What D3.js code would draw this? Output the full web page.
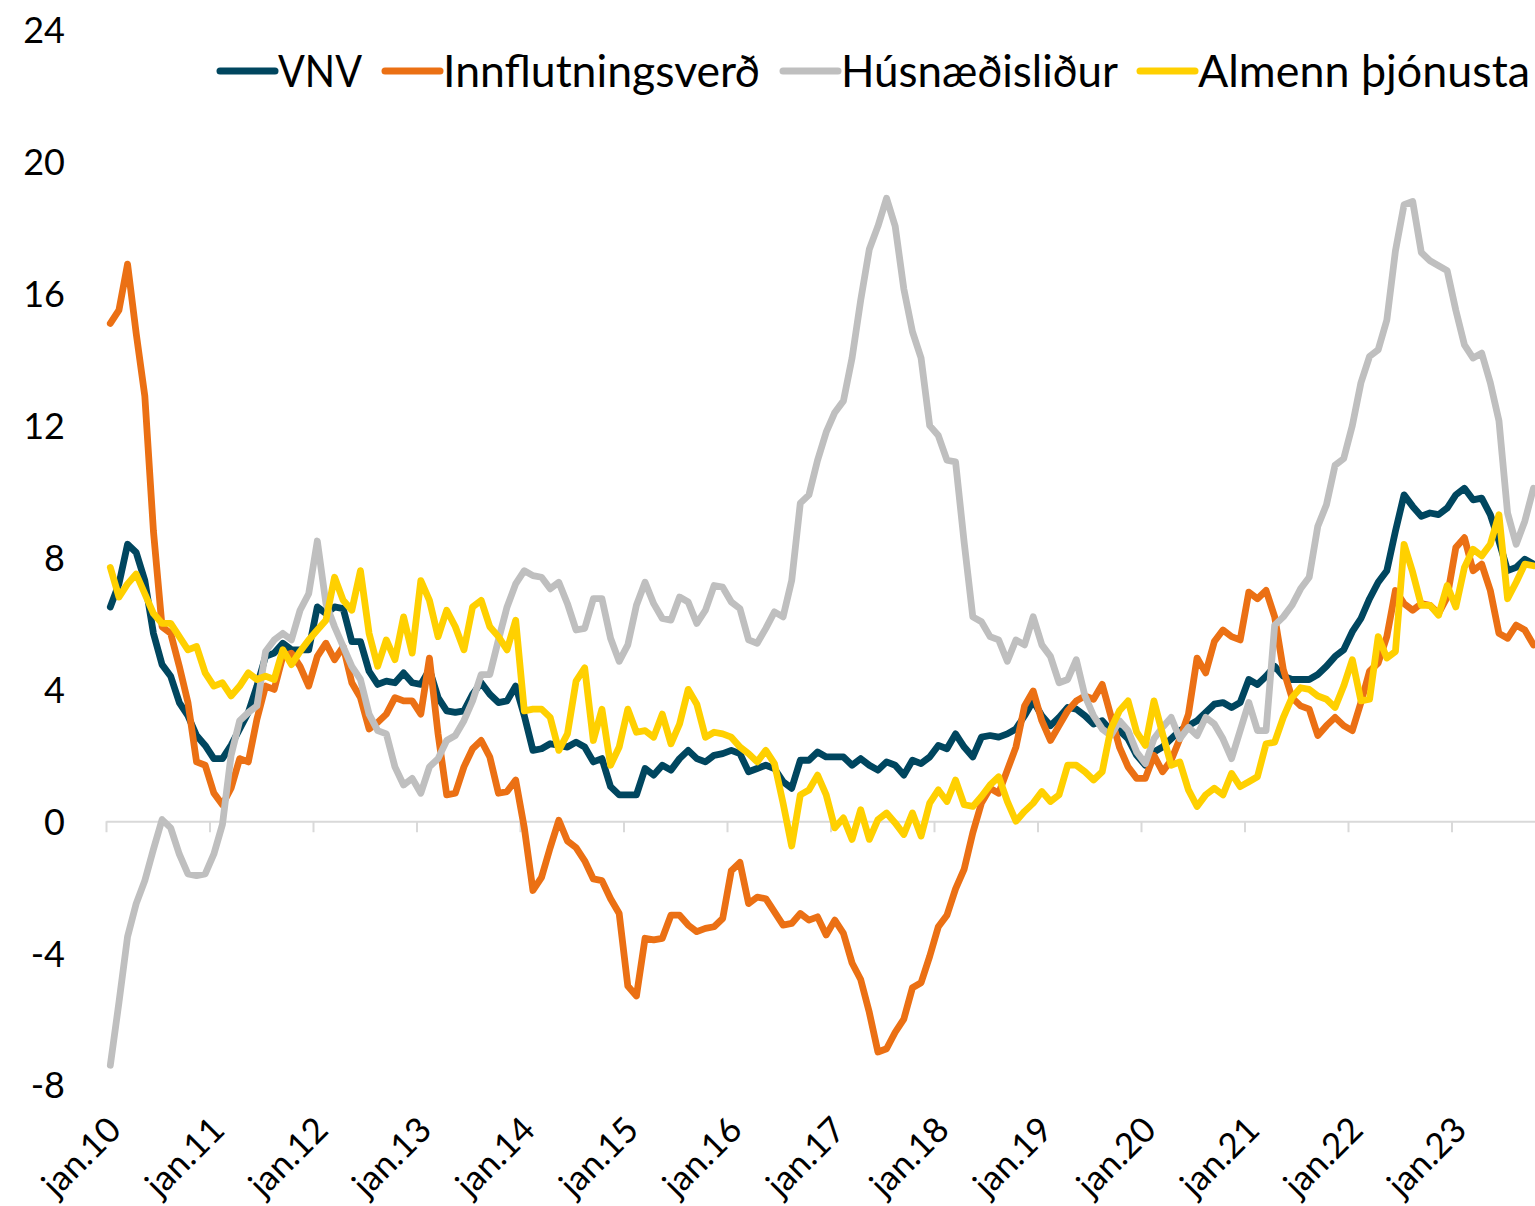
<!DOCTYPE html>
<html><head><meta charset="utf-8">
<script src="https://cdn.jsdelivr.net/npm/d3@7"></script>
<style>
html,body{margin:0;padding:0;background:#fff;}
svg{display:block;font-family:Lato,"Noto Sans",sans-serif;}
</style>
</head><body>
<svg id="chart" width="1535" height="1206"></svg>
<script>
// ---- DATA ----
const tickLabels = ["jan.10","jan.11","jan.12","jan.13","jan.14","jan.15","jan.16","jan.17","jan.18","jan.19","jan.20","jan.21","jan.22","jan.23"];
const yTicks = [-8,-4,0,4,8,12,16,20,24];
const seriesNames = ["VNV","Innflutningsverð","Húsnæðisliður","Almenn þjónusta"];
const seriesColors = ["#00465F","#EB7014","#BFBFBF","#FFD000"];

const vnv = [6.5,7.2,8.4,8.15,7.3,5.7,4.75,4.4,3.6,3.2,2.6,2.3,
1.9,1.9,2.3,2.8,3.3,4.1,5.0,5.1,5.4,5.2,5.2,5.2,
6.5,6.3,6.5,6.45,5.45,5.45,4.55,4.15,4.25,4.2,4.5,4.2,
4.15,4.6,3.75,3.35,3.3,3.35,3.85,4.2,3.85,3.6,3.65,4.1,
3.2,2.15,2.2,2.35,2.3,2.25,2.4,2.25,1.8,1.9,1.05,0.8,
0.8,0.8,1.6,1.4,1.7,1.55,1.9,2.15,1.9,1.8,2.0,2.05,
2.15,2.05,1.5,1.6,1.7,1.6,1.2,1.0,1.85,1.85,2.1,1.95,
1.95,1.95,1.7,1.9,1.7,1.55,1.8,1.7,1.4,1.85,1.75,1.95,
2.3,2.2,2.65,2.25,1.95,2.55,2.6,2.55,2.65,2.8,3.2,3.65,
3.2,2.9,3.15,3.45,3.4,3.2,2.95,3.05,2.75,2.75,2.5,2.0,
1.7,2.1,2.25,2.5,2.75,2.9,3.05,3.3,3.55,3.6,3.45,3.6,
4.3,4.15,4.4,4.7,4.4,4.3,4.3,4.3,4.45,4.7,5.0,5.2,
5.75,6.15,6.75,7.25,7.6,8.8,9.9,9.55,9.25,9.35,9.3,9.5,
9.9,10.1,9.75,9.8,9.3,8.5,7.6,7.7,7.95,7.8];

const innflutningsverd = [15.1,15.5,16.9,14.8,12.9,8.8,5.9,5.7,4.7,3.6,1.8,1.7,
0.86,0.5,1.0,1.9,1.8,3.1,4.1,4.0,5.0,5.1,4.7,4.1,
5.0,5.4,4.9,5.3,4.2,3.75,2.8,3.0,3.25,3.75,3.65,3.65,
3.25,4.95,2.65,0.8,0.85,1.65,2.2,2.45,1.95,0.85,0.9,1.25,
-0.2,-2.1,-1.7,-0.8,0.03,-0.6,-0.8,-1.2,-1.75,-1.8,-2.35,-2.8,
-5.0,-5.3,-3.55,-3.6,-3.55,-2.85,-2.85,-3.15,-3.35,-3.25,-3.2,-2.95,
-1.5,-1.25,-2.5,-2.3,-2.35,-2.75,-3.15,-3.1,-2.8,-3.0,-2.9,-3.45,
-3.0,-3.4,-4.3,-4.8,-5.8,-7.0,-6.9,-6.4,-6.0,-5.05,-4.9,-4.1,
-3.2,-2.85,-2.05,-1.45,-0.35,0.55,1.0,0.85,1.55,2.25,3.5,3.95,
3.05,2.45,2.9,3.35,3.65,3.8,3.7,4.15,3.2,2.25,1.65,1.3,
1.3,2.0,1.5,1.85,2.5,3.25,4.95,4.5,5.45,5.8,5.6,5.5,
6.95,6.75,7.0,6.2,4.6,3.75,3.5,3.4,2.6,2.9,3.15,2.9,
2.75,3.6,4.55,4.8,5.6,7.0,6.6,6.4,6.6,6.55,6.3,6.8,
8.3,8.6,7.6,7.8,7.0,5.7,5.55,5.95,5.8,5.35];

const husnaedislidur = [-7.4,-5.5,-3.5,-2.5,-1.8,-0.85,0.05,-0.2,-1.0,-1.6,-1.65,-1.6,
-1.0,-0.1,2.0,3.05,3.3,3.5,5.15,5.5,5.7,5.5,6.4,6.9,
8.5,6.6,5.9,5.3,4.7,4.3,3.25,2.75,2.65,1.65,1.1,1.3,
0.85,1.65,1.9,2.45,2.6,3.05,3.65,4.45,4.45,5.5,6.5,7.2,
7.6,7.45,7.4,7.05,7.25,6.6,5.8,5.85,6.75,6.75,5.55,4.85,
5.35,6.55,7.25,6.6,6.15,6.1,6.8,6.65,6.0,6.4,7.15,7.1,
6.65,6.45,5.5,5.4,5.85,6.35,6.2,7.3,9.65,9.9,10.95,11.8,
12.4,12.75,14.05,15.8,17.35,18.05,18.9,18.05,16.15,14.85,14.05,12.0,
11.7,10.95,10.9,8.45,6.2,6.05,5.6,5.5,4.85,5.5,5.35,6.2,
5.35,5.0,4.2,4.3,4.9,3.8,3.2,2.8,2.6,3.05,2.75,2.1,
1.75,2.5,2.85,3.15,2.5,2.85,2.6,3.15,2.95,2.5,1.9,2.75,
3.6,2.75,2.75,5.95,6.2,6.55,7.05,7.4,8.95,9.6,10.8,11.0,
12.0,13.3,14.1,14.3,15.2,17.3,18.7,18.8,17.25,17.0,16.85,16.7,
15.5,14.45,14.05,14.2,13.3,12.15,9.35,8.4,9.1,10.1];

const almennThjonusta = [7.7,6.8,7.2,7.5,6.9,6.3,6.0,6.0,5.6,5.2,5.3,4.5,
4.1,4.2,3.8,4.1,4.5,4.3,4.4,4.3,5.2,4.75,5.15,5.5,
5.8,6.1,7.4,6.7,6.4,7.6,5.7,4.7,5.5,4.9,6.2,5.1,
7.3,6.7,5.6,6.4,5.9,5.2,6.5,6.7,5.9,5.6,5.2,6.1,
3.35,3.4,3.4,3.15,2.15,2.65,4.25,4.65,2.45,3.4,1.7,2.25,
3.4,2.7,2.75,2.55,3.25,2.35,2.95,4.0,3.55,2.55,2.7,2.65,
2.55,2.25,2.05,1.8,2.15,1.75,0.55,-0.75,0.8,0.95,1.4,0.8,
-0.2,0.1,-0.55,0.35,-0.55,0.05,0.25,-0.05,-0.4,0.25,-0.45,0.55,
0.95,0.6,1.25,0.5,0.45,0.75,1.1,1.35,0.6,0.0,0.3,0.55,
0.9,0.6,0.8,1.7,1.7,1.5,1.25,1.5,2.8,3.35,3.65,2.7,
2.3,3.65,2.65,1.7,1.8,0.95,0.45,0.8,1.0,0.8,1.45,1.05,
1.2,1.35,2.35,2.4,3.15,3.75,4.05,4.0,3.8,3.7,3.45,4.1,
4.9,3.65,3.7,5.6,4.95,5.15,8.4,7.55,6.55,6.55,6.25,7.15,
6.5,7.7,8.25,8.05,8.4,9.3,6.75,7.25,7.8,7.75];

const monthNames = ["jan","feb","mar","apr","maí","jún","júl","ágú","sep","okt","nóv","des"];
const categories = vnv.map((_, i) => monthNames[i % 12] + "." + (10 + Math.floor(i / 12)));

// ---- CHART ----
const svg = d3.select("#chart");
const plotLeft = 106, monthW = 8.625;
const x = d3.scaleBand().domain(categories).range([plotLeft, plotLeft + categories.length * monthW]).padding(0);
const xEdge = d3.scaleLinear().domain([0, categories.length]).range([plotLeft, plotLeft + categories.length * monthW]);
const y = d3.scaleLinear().domain([-8, 24]).range([1085, 30]);

// Category axis at zero
const xAxis = d3.axisBottom(xEdge)
  .tickValues(d3.range(0, categories.length, 12))
  .tickFormat("")
  .tickSize(11)
  .tickSizeOuter(0);
const gx = svg.append("g").attr("transform", `translate(0,${y(0)})`).call(xAxis);
gx.select(".domain").attr("stroke", "#D9D9D9").attr("stroke-width", 2);
gx.selectAll(".tick line").attr("stroke", "#D9D9D9").attr("stroke-width", 2);

// Rotated year labels at the bottom
svg.append("g").selectAll("text")
  .data(tickLabels)
  .join("text")
  .attr("transform", (d, k) => `translate(${xEdge(k * 12) + 17},1132) rotate(-45)`)
  .attr("text-anchor", "end")
  .attr("font-size", 35)
  .attr("fill", "#000")
  .text(d => d);

// Y axis labels (plain hyphen minus as in the original)
const yAxis = d3.axisLeft(y).tickValues(yTicks).tickSize(0).tickPadding(0).tickFormat(d => String(d));
const gy = svg.append("g").attr("transform", "translate(65,0)").call(yAxis);
gy.select(".domain").remove();
gy.selectAll("text").attr("font-size", 36).attr("font-family", "Lato, 'Noto Sans', sans-serif").attr("fill", "#000").attr("dy", "0.36em");

// Lines
const allSeries = [vnv, innflutningsverd, husnaedislidur, almennThjonusta];
const line = d3.line()
  .x((d, i) => x(categories[i]) + x.bandwidth() / 2)
  .y(d => y(d));
svg.append("g").selectAll("path")
  .data(allSeries)
  .join("path")
  .attr("d", d => line(d))
  .attr("fill", "none")
  .attr("stroke", (d, i) => seriesColors[i])
  .attr("stroke-width", 6.8)
  .attr("stroke-linejoin", "round")
  .attr("stroke-linecap", "round");

// Legend
const legendX = [220, 385, 783, 1140];
const legendTextW = [84, 317, 277, 332];
const lg = svg.append("g").selectAll("g")
  .data(seriesNames)
  .join("g")
  .attr("transform", (d, i) => `translate(${legendX[i]},71)`);
lg.append("line")
  .attr("x1", 0).attr("x2", 55).attr("y1", 0).attr("y2", 0)
  .attr("stroke", (d, i) => seriesColors[i])
  .attr("stroke-width", 7)
  .attr("stroke-linecap", "round");
lg.append("text")
  .attr("x", 58).attr("y", 16)
  .attr("font-size", 44)
  .attr("fill", "#000")
  .attr("textLength", (d, i) => legendTextW[i])
  .attr("lengthAdjust", "spacingAndGlyphs")
  .text(d => d);
</script>
</body></html>
